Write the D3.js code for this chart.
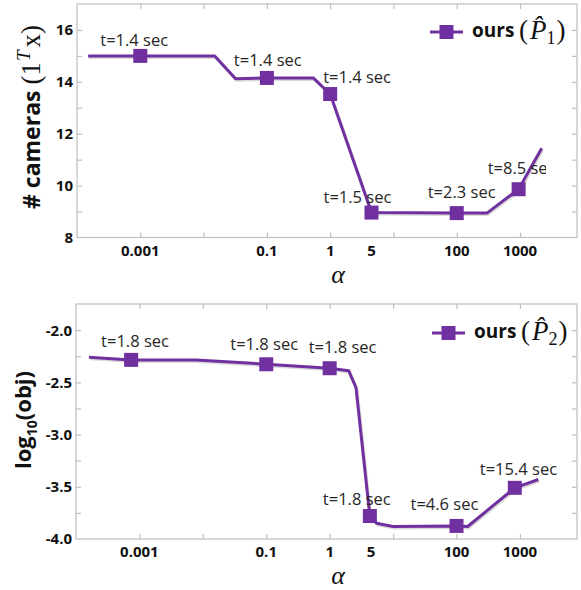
<!DOCTYPE html>
<html>
<head>
<meta charset="utf-8">
<script src="https://cdn.jsdelivr.net/npm/d3@7"></script>
<style>
	body { margin: 0; background: white; }
	svg { display: block; }
</style>
</head>
<body>
<script>

//****************************************************************************************************************************//
// Data

var xTickAlpha = [0.001, 0.1, 1, 4.5, 100, 1000];
var xTickText = ["0.001", "0.1", "1", "5", "100", "1000"];

// top panel : # cameras
var alphaTop = [1.5e-4, 0.001, 0.015, 0.032, 0.1, 0.54, 1, 4.5, 100, 300, 950, 2200];
var camerasTop = [15, 15, 15, 14.12, 14.15, 14.15, 13.53, 8.96, 8.94, 8.94, 9.86, 11.44];
var markerAlphaTop = [0.001, 0.1, 1, 4.5, 100, 950];
var markerCamerasTop = [15, 14.15, 13.53, 8.96, 8.94, 9.86];
var timeTop = ["t=1.4 sec", "t=1.4 sec", "t=1.4 sec", "t=1.5 sec", "t=2.3 sec", "t=8.5 sec"];
var yTicksTop = [8, 10, 12, 14, 16];

// bottom panel : log10(obj)
var alphaBottom = [1.6e-4, 7.4e-4, 0.0079, 0.1, 1, 2, 2.6, 4.3, 5.5, 10, 100, 150, 830, 1950];
var objBottom = [-2.26, -2.285, -2.285, -2.327, -2.365, -2.39, -2.55, -3.78, -3.85, -3.88, -3.875, -3.88, -3.51, -3.43];
var markerAlphaBottom = [7.4e-4, 0.1, 1, 4.3, 100, 830];
var markerObjBottom = [-2.285, -2.327, -2.365, -3.78, -3.875, -3.51];
var timeBottom = ["t=1.8 sec", "t=1.8 sec", "t=1.8 sec", "t=1.8 sec", "t=4.6 sec", "t=15.4 sec"];
var yTicksBottom = [-4.0, -3.5, -3.0, -2.5, -2.0];

//****************************************************************************************************************************//
// Layout

var width = 581, height = 590;
var purple = "#7030a0";
var frameColor = "#bfbfbf";

// label offsets from marker centre (start x, baseline y)
var labelOffsetsTop = [[-40, -10], [-33, -12], [-7, -11], [-48, -10], [-29, -15], [-31, -15]];
var labelOffsetsBottom = [[-30, -13], [-36, -14], [-21, -15], [-47, -11], [-46, -16], [-35, -13]];

var canvas = d3.select("body").append("svg")
				.attr("width", width)
				.attr("height", height);

var defs = canvas.append("defs");

//****************************************************************************************************************************//
// Panel

function createPanel(opt){

	var x = d3.scaleLog()
				.domain([1e-4, Math.pow(10, 3.9)])
				.range([opt.left, opt.right]);

	var y = d3.scaleLinear()
				.domain(opt.yDomain)
				.range([opt.bottom, opt.top]);

	var g = canvas.append("g");

	// frame
	g.append("rect")
		.attr("x", opt.left)
		.attr("y", opt.top)
		.attr("width", opt.right - opt.left)
		.attr("height", opt.bottom - opt.top)
		.attr("fill", "none")
		.attr("stroke", frameColor)
		.attr("stroke-width", 1.2);

	// inward ticks, x (decades) on top and bottom
	var decades = [1e-3, 1e-2, 1e-1, 1, 10, 100, 1000];
	var xAxisBottom = d3.axisTop(x).tickValues(decades).tickSize(5).tickFormat("");
	var xAxisTop = d3.axisBottom(x).tickValues(decades).tickSize(5).tickFormat("");
	var yAxisLeft = d3.axisRight(y).tickValues(opt.yMinor).tickSize(5).tickFormat("");
	var yAxisRight = d3.axisLeft(y).tickValues(opt.yMinor).tickSize(5).tickFormat("");

	[[xAxisBottom, "translate(0," + opt.bottom + ")"],
	 [xAxisTop, "translate(0," + opt.top + ")"],
	 [yAxisLeft, "translate(" + opt.left + ",0)"],
	 [yAxisRight, "translate(" + opt.right + ",0)"]].forEach(function(a){
		var ag = g.append("g").attr("transform", a[1]).call(a[0]);
		ag.select(".domain").remove();
		ag.selectAll("line").attr("stroke", frameColor).attr("stroke-width", 1.2);
	});

	// y tick labels
	g.selectAll(".ylab")
		.data(opt.yTicks)
		.enter().append("text")
		.attr("x", opt.left - 4)
		.attr("y", function(d){ return y(d); })
		.attr("dy", "0.36em")
		.attr("text-anchor", "end")
		.style("font-family", "Open Sans")
		.style("font-weight", "bold")
		.style("font-size", "15px")
		.attr("fill", "#111")
		.text(opt.yFormat);

	// x tick labels
	g.selectAll(".xlab")
		.data(xTickAlpha)
		.enter().append("text")
		.attr("x", function(d){ return x(d); })
		.attr("y", opt.bottom + 18)
		.attr("text-anchor", "middle")
		.style("font-family", "Open Sans")
		.style("font-weight", "bold")
		.style("font-size", "15px")
		.attr("fill", "#111")
		.text(function(d, i){ return xTickText[i]; });

	// alpha
	g.append("text")
		.attr("x", 338)
		.attr("y", opt.bottom + 45)
		.attr("text-anchor", "middle")
		.style("font-family", "Liberation Serif")
		.style("font-style", "italic")
		.style("font-size", "26px")
		.attr("fill", "#111")
		.text("\u03b1");

	// line
	var line = d3.line()
				.x(function(d){ return x(d[0]); })
				.y(function(d){ return y(d[1]); });

	g.append("path")
		.datum(d3.zip(opt.lineX, opt.lineY))
		.attr("d", line)
		.attr("fill", "none")
		.attr("stroke", "rgba(0,0,0,0.15)")
		.attr("stroke-width", 3)
		.attr("transform", "translate(1,1.5)");

	g.append("path")
		.datum(d3.zip(opt.lineX, opt.lineY))
		.attr("d", line)
		.attr("fill", "none")
		.attr("stroke", purple)
		.attr("stroke-width", 3)
		.attr("stroke-linejoin", "round");

	// markers
	var ms = 14;
	g.selectAll(".marker")
		.data(d3.zip(opt.markX, opt.markY))
		.enter().append("rect")
		.attr("x", function(d){ return x(d[0]) - ms/2; })
		.attr("y", function(d){ return y(d[1]) - ms/2; })
		.attr("width", ms)
		.attr("height", ms)
		.attr("fill", purple);

	// time labels
	var clipId = "clip" + opt.id;
	defs.append("clipPath")
		.attr("id", clipId)
		.append("rect")
		.attr("x", 0)
		.attr("y", opt.top)
		.attr("width", opt.labelClip)
		.attr("height", opt.bottom - opt.top);

	g.append("g")
		.attr("clip-path", "url(#" + clipId + ")")
		.selectAll("text")
		.data(d3.zip(opt.markX, opt.markY))
		.enter().append("text")
		.attr("x", function(d, i){ return x(d[0]) + opt.offsets[i][0]; })
		.attr("y", function(d, i){ return y(d[1]) + opt.offsets[i][1]; })
		.style("font-family", "Open Sans")
		.style("font-size", "16.5px")
		.attr("fill", "#262626")
		.text(function(d, i){ return opt.times[i]; });

	// legend
	var lg = g.append("g")
				.attr("transform", "translate(" + opt.legend[0] + "," + opt.legend[1] + ")");

	lg.append("line")
		.attr("x1", 0)
		.attr("x2", 33)
		.attr("y1", 0)
		.attr("y2", 0)
		.attr("stroke", purple)
		.attr("stroke-width", 3);

	lg.append("rect")
		.attr("x", 16.5 - ms/2)
		.attr("y", -ms/2)
		.attr("width", ms)
		.attr("height", ms)
		.attr("fill", purple);

	lg.append("text")
		.attr("x", 42)
		.attr("y", 5)
		.style("font-family", "Open Sans")
		.style("font-weight", "bold")
		.style("font-size", "19px")
		.attr("fill", "#111")
		.text("ours");

	var mt = lg.append("text")
				.attr("x", 89)
				.attr("y", 7)
				.style("font-family", "Liberation Serif")
				.style("font-size", "27px")
				.attr("fill", "#111");

	mt.append("tspan").text("(");
	mt.append("tspan")
		.attr("dx", 2)
		.style("font-style", "italic")
		.text("P\u0302");
	mt.append("tspan")
		.attr("font-size", "18px")
		.attr("dy", 5)
		.text(opt.sub);
	mt.append("tspan")
		.attr("dy", -5)
		.attr("dx", 1)
		.text(")");

	return g;
}

//****************************************************************************************************************************//
// Top panel

createPanel({
	id : "Top",
	left : 77, right : 577, top : 4, bottom : 237.5,
	yDomain : [8, 17],
	yTicks : yTicksTop,
	yMinor : [9, 10, 11, 12, 13, 14, 15, 16],
	yFormat : function(d){ return d; },
	lineX : alphaTop, lineY : camerasTop,
	markX : markerAlphaTop, markY : markerCamerasTop,
	times : timeTop,
	offsets : labelOffsetsTop,
	labelClip : 546,
	legend : [430, 32],
	sub : "1"
});

var titleTop = canvas.append("text")
				.attr("transform", "translate(40,117) rotate(-90)")
				.attr("text-anchor", "middle")
				.attr("fill", "#111");

titleTop.append("tspan")
		.style("font-family", "Open Sans")
		.style("font-weight", "bold")
		.style("font-size", "23px")
		.text("# cameras ");
titleTop.append("tspan")
		.style("font-family", "Liberation Serif")
		.style("font-size", "27px")
		.text("(1");
titleTop.append("tspan")
		.style("font-family", "Liberation Serif")
		.style("font-style", "italic")
		.style("font-size", "19px")
		.attr("dx", 1)
		.attr("dy", -10)
		.text("T");
titleTop.append("tspan")
		.style("font-family", "Liberation Serif")
		.style("font-size", "27px")
		.attr("dx", 3)
		.attr("dy", 10)
		.text("x)");

//****************************************************************************************************************************//
// Bottom panel

createPanel({
	id : "Bottom",
	left : 76, right : 577, top : 304, bottom : 539,
	yDomain : [-4, -1.75],
	yTicks : yTicksBottom,
	yMinor : [-3.75, -3.5, -3.25, -3, -2.75, -2.5, -2.25, -2],
	yFormat : function(d){ return d.toFixed(1); },
	lineX : alphaBottom, lineY : objBottom,
	markX : markerAlphaBottom, markY : markerObjBottom,
	times : timeBottom,
	offsets : labelOffsetsBottom,
	labelClip : 581,
	legend : [432, 333],
	sub : "2"
});

var titleBottom = canvas.append("text")
				.attr("transform", "translate(31,420) rotate(-90)")
				.attr("text-anchor", "middle")
				.style("font-family", "Open Sans")
				.style("font-weight", "bold")
				.style("font-size", "22px")
				.attr("fill", "#111");

titleBottom.append("tspan").text("log");
titleBottom.append("tspan")
		.style("font-size", "14px")
		.attr("dy", 6)
		.text("10");
titleBottom.append("tspan")
		.attr("dy", -6)
		.text("(obj)");

</script>
</body>
</html>
